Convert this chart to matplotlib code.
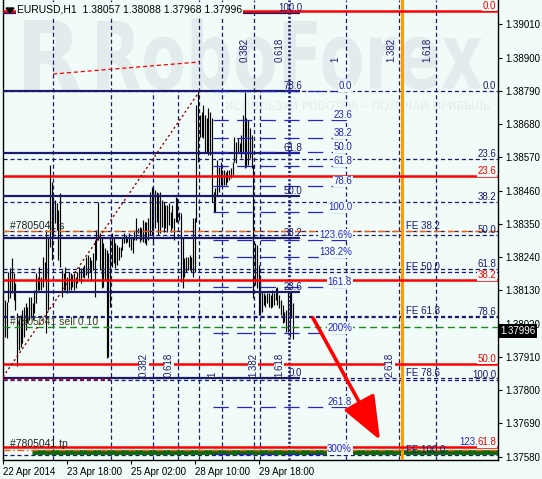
import numpy as np
import matplotlib.pyplot as plt
from matplotlib.textpath import TextPath
from matplotlib.patches import PathPatch, Polygon
from matplotlib.font_manager import FontProperties
from matplotlib.transforms import Affine2D, IdentityTransform

plt.rcParams['font.family'] = ['Liberation Sans', 'DejaVu Sans']
plt.rcParams['lines.scale_dashes'] = False

# EURUSD H1 bars (high / low)
highs = [1.38098, 1.38091, 1.38191, 1.38204, 1.38237, 1.38188, 1.38155, 1.38055, 1.38039, 1.38049,
         1.38065, 1.38075, 1.38088, 1.38075, 1.38108, 1.38108, 1.38088, 1.38131, 1.38188, 1.38174,
         1.38207, 1.38174, 1.38241, 1.38224, 1.38330, 1.38307, 1.38545, 1.38489, 1.38439, 1.38429,
         1.38419, 1.38396, 1.38452, 1.38198, 1.38188, 1.38207, 1.38174,
         1.38191, 1.38188, 1.38181, 1.38188, 1.38174, 1.38191, 1.38207, 1.38204, 1.38207, 1.38214,
         1.38241, 1.38247, 1.38241, 1.38231, 1.38254, 1.38297, 1.38330, 1.38422, 1.38320, 1.38307,
         1.38287, 1.38270, 1.38264, 1.38254, 1.38307, 1.38320, 1.38307, 1.38287, 1.38280, 1.38274,
         1.38274, 1.38307, 1.38320, 1.38313, 1.38307, 1.38320, 1.38303, 1.38303, 1.38330, 1.38370,
         1.38336, 1.38340, 1.38336,
         1.38363, 1.38356, 1.38356, 1.38370, 1.38455, 1.38472, 1.38472, 1.38462, 1.38455, 1.38452,
         1.38455, 1.38429, 1.38422, 1.38412, 1.38412, 1.38419, 1.38389, 1.38412, 1.38370, 1.38439,
         1.38435, 1.38389, 1.38386, 1.38303, 1.38237, 1.38241, 1.38241, 1.38247, 1.38241, 1.38370,
         1.38370, 1.38743, 1.38786, 1.38710, 1.38720, 1.38743, 1.38710, 1.38700, 1.38733, 1.38720,
         1.38700, 1.38455,
         1.38469, 1.38561, 1.38538, 1.38555, 1.38528, 1.38528, 1.38522, 1.38528, 1.38528, 1.38535,
         1.38555, 1.38637, 1.38621, 1.38634, 1.38617, 1.38644, 1.38710, 1.38786, 1.38700, 1.38694,
         1.38667, 1.38644, 1.38545, 1.38287, 1.38280, 1.38214, 1.38181, 1.38125, 1.38122, 1.38115,
         1.38122, 1.38122, 1.38115, 1.38131, 1.38122, 1.38138, 1.38141, 1.38115, 1.38098, 1.38082,
         1.38059, 1.38065, 1.38125, 1.38122, 1.38125, 1.38088]
lows = [1.37976, 1.37973, 1.38091, 1.38105, 1.38122, 1.38098, 1.38065, 1.37880, 1.37933, 1.37943,
        1.37956, 1.37976, 1.37999, 1.38022, 1.38032, 1.38042, 1.38032, 1.38055, 1.38088, 1.38131,
        1.38131, 1.38131, 1.38141, 1.38164, 1.37989, 1.38065, 1.38274, 1.38231, 1.38307, 1.38353,
        1.38330, 1.38231, 1.38207, 1.38108, 1.38131, 1.38131, 1.38122,
        1.38131, 1.38131, 1.38141, 1.38131, 1.38138, 1.38155, 1.38164, 1.38155, 1.38174, 1.38171,
        1.38181, 1.38171, 1.38191, 1.38164, 1.38198, 1.38108, 1.38231, 1.38297, 1.38198, 1.38138,
        1.38141, 1.38164, 1.37906, 1.37910, 1.38075, 1.38207, 1.38221, 1.38204, 1.38214, 1.38231,
        1.38241, 1.38264, 1.38287, 1.38287, 1.38290, 1.38274, 1.38264, 1.38254, 1.38297, 1.38297,
        1.38320, 1.38290, 1.38297,
        1.38290, 1.38287, 1.38280, 1.38297, 1.38313, 1.38313, 1.38280, 1.38336, 1.38356, 1.38313,
        1.38320, 1.38340, 1.38323, 1.38336, 1.38323, 1.38346, 1.38323, 1.38336, 1.38297, 1.38356,
        1.38356, 1.38363, 1.38158, 1.38138, 1.38174, 1.38191, 1.38198, 1.38198, 1.38191, 1.38174,
        1.38191, 1.38356, 1.38555, 1.38637, 1.38637, 1.38634, 1.38588, 1.38584, 1.38578, 1.38578,
        1.38422, 1.38389,
        1.38389, 1.38446, 1.38455, 1.38479, 1.38472, 1.38479, 1.38479, 1.38489, 1.38495, 1.38502,
        1.38512, 1.38555, 1.38551, 1.38588, 1.38584, 1.38568, 1.38588, 1.38535, 1.38538, 1.38545,
        1.38568, 1.38535, 1.38105, 1.38148, 1.38138, 1.38049, 1.38049, 1.38059, 1.38082, 1.38075,
        1.38088, 1.38075, 1.38072, 1.38075, 1.38082, 1.38098, 1.38082, 1.38072, 1.38049, 1.38022,
        1.38026, 1.37993, 1.37993, 1.37975, 1.38039, 1.37968]

ohlc_last = ["1.38057", "1.38088", "1.37968", "1.37996"]
last_price = 1.37996

# fibo levels (price)
red_levels = [1.39055, 1.38507, 1.38164, 1.37887, 1.37612]
red_labels = ["0.0", "23.6", "38.2", "50.0", "61.8"]
navy_levels = [1.39049, 1.38789, 1.38584, 1.38442, 1.38303, 1.38125, 1.37840]
navy_labels = ["100.0", "78.6", "61.8", "50.0", "38.2", "23.6", "0.0"]
dash_levels = [1.38789, 1.38565, 1.38422, 1.38313, 1.38201, 1.38042, 1.37834]
dash_labels = ["0.0", "23.6", "38.2", "50.0", "61.8", "78.6", "100.0"]
fe_levels = [1.38326, 1.38191, 1.38045, 1.37840, 1.37586]
fe_labels = ["FE 38.2", "FE 50.0", "FE 61.8", "FE 78.6", "FE 100.0"]
blue_levels = [1.38789, 1.38694, 1.38634, 1.38588, 1.38541, 1.38475, 1.38389, 1.38297,
               1.38240, 1.38141, 1.37989, 1.37745, 1.37589]
blue_labels = ["0.0", "23.6", "38.2", "50.0", "61.8", "78.6", "100.0", "123.6%",
               "138.2%", "161.8", "200%", "261.8", "300%"]
sl_price = 1.38326
entry_price = 1.38009
tp_price = 1.37602
tp_band = 1.37596

yticks = [1.39010, 1.38900, 1.38790, 1.38680, 1.38570, 1.38460, 1.38350,
          1.38240, 1.38130, 1.38020, 1.37910, 1.37800, 1.37690, 1.37580]
date_labels = ["22 Apr 2014", "23 Apr 18:00", "25 Apr 02:00", "28 Apr 10:00", "29 Apr 18:00"]

tz_top = ["0.382", "0.618", "1", "1.382", "1.618"]
tz_bottom = ["0.382", "0.618", "1", "1.382", "1.618", "2.618"]

BG = '#f1fcf8'
NAVY = '#1b1b6e'
BLUE = '#2424c8'
RED = '#ff0000'
WM = '#e3eced'

# layout: image pixel row -> price
P_TOP = 1.390904
PPX = 0.00003307


def py(y):
    return P_TOP - y * PPX


fig = plt.figure(figsize=(5.42, 4.79), dpi=100, facecolor=BG)
ax = fig.add_axes([3 / 542, 19 / 479, 495 / 542, 460 / 479])
ax.set_facecolor('none')
ax.set_xlim(3, 498)
ax.set_ylim(py(460), py(0))


# watermark
def fit_text(s, x0, y0, x1, y1, weight='bold'):
    tp = TextPath((0, 0), s, size=100, prop=FontProperties(family='DejaVu Sans', weight=weight))
    bb = tp.get_extents()
    tr = Affine2D().translate(-bb.x0, -bb.y0).scale((x1 - x0) / bb.width, (y1 - y0) / bb.height) \
        .translate(x0, 479 - y1)
    p = PathPatch(tr.transform_path(tp), transform=IdentityTransform(), facecolor=WM,
                  edgecolor='none', zorder=-1)
    fig.add_artist(p)


fit_text("R", 24, 20, 80, 90)
fit_text("RoboForex", 97, 18, 482, 90)
fit_text("ИСПОЛЬЗУЙ РОБОТОВ – ПОЛУЧАЙ ПРИБЫЛЬ", 226, 99, 490, 110, weight='normal')

dash = (0, (3, 2))
# vertical time-zone lines
full_v = [53, 111, 199, 222, 254, 346, 398.5, 436]
part_v = [153, 178, 260]
for x in full_v:
    ax.axvline(x, color=NAVY, lw=0.9, ls=dash, zorder=3)
for x in part_v:
    ax.vlines(x, py(460), py(91), color=NAVY, lw=0.9, linestyles=[dash], zorder=3)
ax.axvline(289, color=NAVY, lw=1.8, ls=(0, (1.5, 1.5)), zorder=3)
ax.axvline(401.7, color='#ff9a00', lw=2.2, zorder=4)

# horizontal dashed fibo + expansion lines
ax.hlines(dash_levels, 3, 498, colors=NAVY, lw=0.9, linestyles=[dash], zorder=3)
ax.hlines(fe_levels, 3, 498, colors=NAVY, lw=0.9, linestyles=[dash], zorder=3)

# trade lines
ax.hlines(sl_price, 3, 498, colors='#f06010', lw=1.0, linestyles=[(0, (5, 2, 1, 2))], zorder=3)
ax.hlines(entry_price, 3, 498, colors='#1a8a1a', lw=1.0, linestyles=[(0, (5, 3))], zorder=3)
ax.hlines(tp_band, 32, 498, colors='#0a6a0a', lw=3.5, zorder=3)
ax.hlines(tp_price, 3, 498, colors='#f06010', lw=1.0, linestyles=[(0, (5, 2, 1, 2))], zorder=4)
ax.hlines(dash_levels[-1] + 0.00002, 3, 110, colors=RED, lw=1.0, linestyles=[dash], zorder=3)

# bars
xs = 5 + np.arange(len(highs)) * (288 / (len(highs) - 1))
ax.vlines(xs, lows, highs, colors='black', lw=0.85, zorder=2)

# solid fibo lines
ax.hlines(navy_levels, 3, 300, colors=NAVY, lw=1.6, zorder=4)
ax.hlines(red_levels, 3, 498, colors=RED, lw=1.8, zorder=4)
ax.hlines(blue_levels, 213, 352, colors=BLUE, lw=0.9, linestyles=[(0, (11, 6))], zorder=4)

# trend lines
ax.plot([3, 199], [py(377), py(92)], color='#8b0000', lw=1.0, ls=(0, (1.5, 2)), zorder=4)
ax.plot([53, 199], [py(74), py(62)], color=RED, lw=0.9, ls=(0, (3, 2)), zorder=4)

fs = 7
bgbox = dict(facecolor=BG, edgecolor='none', pad=0.4)
for lv, s in zip(red_levels, red_labels):
    ax.text(496, lv, s, color=RED, fontsize=fs, ha='right', va='bottom', zorder=6, bbox=bgbox)
for lv, s in zip(navy_levels, navy_labels):
    ax.text(302, lv, s, color=NAVY, fontsize=fs, ha='right', va='bottom', zorder=6)
for lv, s in zip(dash_levels, dash_labels):
    ax.text(496, lv, s, color=NAVY, fontsize=fs, ha='right', va='bottom', zorder=6)
for lv, s in zip(fe_levels, fe_labels):
    ax.text(406, lv, s, color=NAVY, fontsize=fs, ha='left', va='bottom', zorder=6)
for lv, s in zip(blue_levels, blue_labels):
    ax.text(352, lv, s, color=BLUE, fontsize=fs, ha='right', va='bottom', zorder=6, bbox=bgbox)
ax.text(478, red_levels[-1], "123.", color=BLUE, fontsize=fs, ha='right', va='bottom', zorder=5)

for x, s in zip([250, 285, 340, 396, 432], tz_top):
    ax.text(x, py(62), s, color=NAVY, fontsize=fs, rotation=90, ha='right', va='bottom', zorder=6)
for x, s in zip([149, 174, 217, 258, 284, 395], tz_bottom):
    ax.text(x, py(377), s, color=NAVY, fontsize=fs, rotation=90, ha='right', va='bottom',
            zorder=6, bbox=dict(facecolor=BG, edgecolor='none', pad=0.3))

ax.text(10, sl_price, "#7805041 s", color='#202020', fontsize=7.5, ha='left', va='bottom', zorder=6)
ax.text(10, entry_price, "#7805041 sell 0.10", color='#404020', fontsize=7.5, ha='left',
        va='bottom', zorder=6)
ax.text(10, tp_price + 0.00005, "#7805041 tp", color='#202020', fontsize=7.5, ha='left',
        va='bottom', zorder=6)

# red arrow
ax.annotate('', xy=(380, py(440)), xytext=(313, py(318)),
            arrowprops=dict(arrowstyle='-|>,head_length=1.5,head_width=0.6', color=RED, lw=2.6,
                            mutation_scale=18, shrinkA=0, shrinkB=0), zorder=7)

# title
ax.text(17, py(10), "EURUSD,H1  " + " ".join(ohlc_last), color='black', fontsize=7.5,
        ha='left', va='center', zorder=8, bbox=dict(facecolor=BG, edgecolor='none', pad=0.6))
ax.add_patch(Polygon([[6, py(8)], [14, py(8)], [10, py(13)]], closed=True, color='black', zorder=8))

# axes
ax.yaxis.tick_right()
ax.set_yticks(yticks)
ax.set_yticklabels([f"{v:.5f}" for v in yticks])
ax.set_xticks([3, 67, 131, 195, 259])
ax.set_xticklabels(date_labels)
for lbl in ax.get_xticklabels():
    lbl.set_horizontalalignment('left')
ax.tick_params(axis='both', labelsize=7, length=3, width=0.8, color='black', pad=2)
ax.spines['top'].set_visible(False)
for s in ['left', 'right', 'bottom']:
    ax.spines[s].set_color('black')
    ax.spines[s].set_linewidth(1.0)

# price tag sits over the 1.38020 tick label, as in the terminal
ax.text(1.004, last_price, f"{last_price:.5f}", transform=ax.get_yaxis_transform(),
        color='white', fontsize=7, ha='left', va='center', zorder=9,
        bbox=dict(facecolor='black', edgecolor='none', pad=1.2), clip_on=False)

fig.savefig('out.png', dpi=100, facecolor=BG)
